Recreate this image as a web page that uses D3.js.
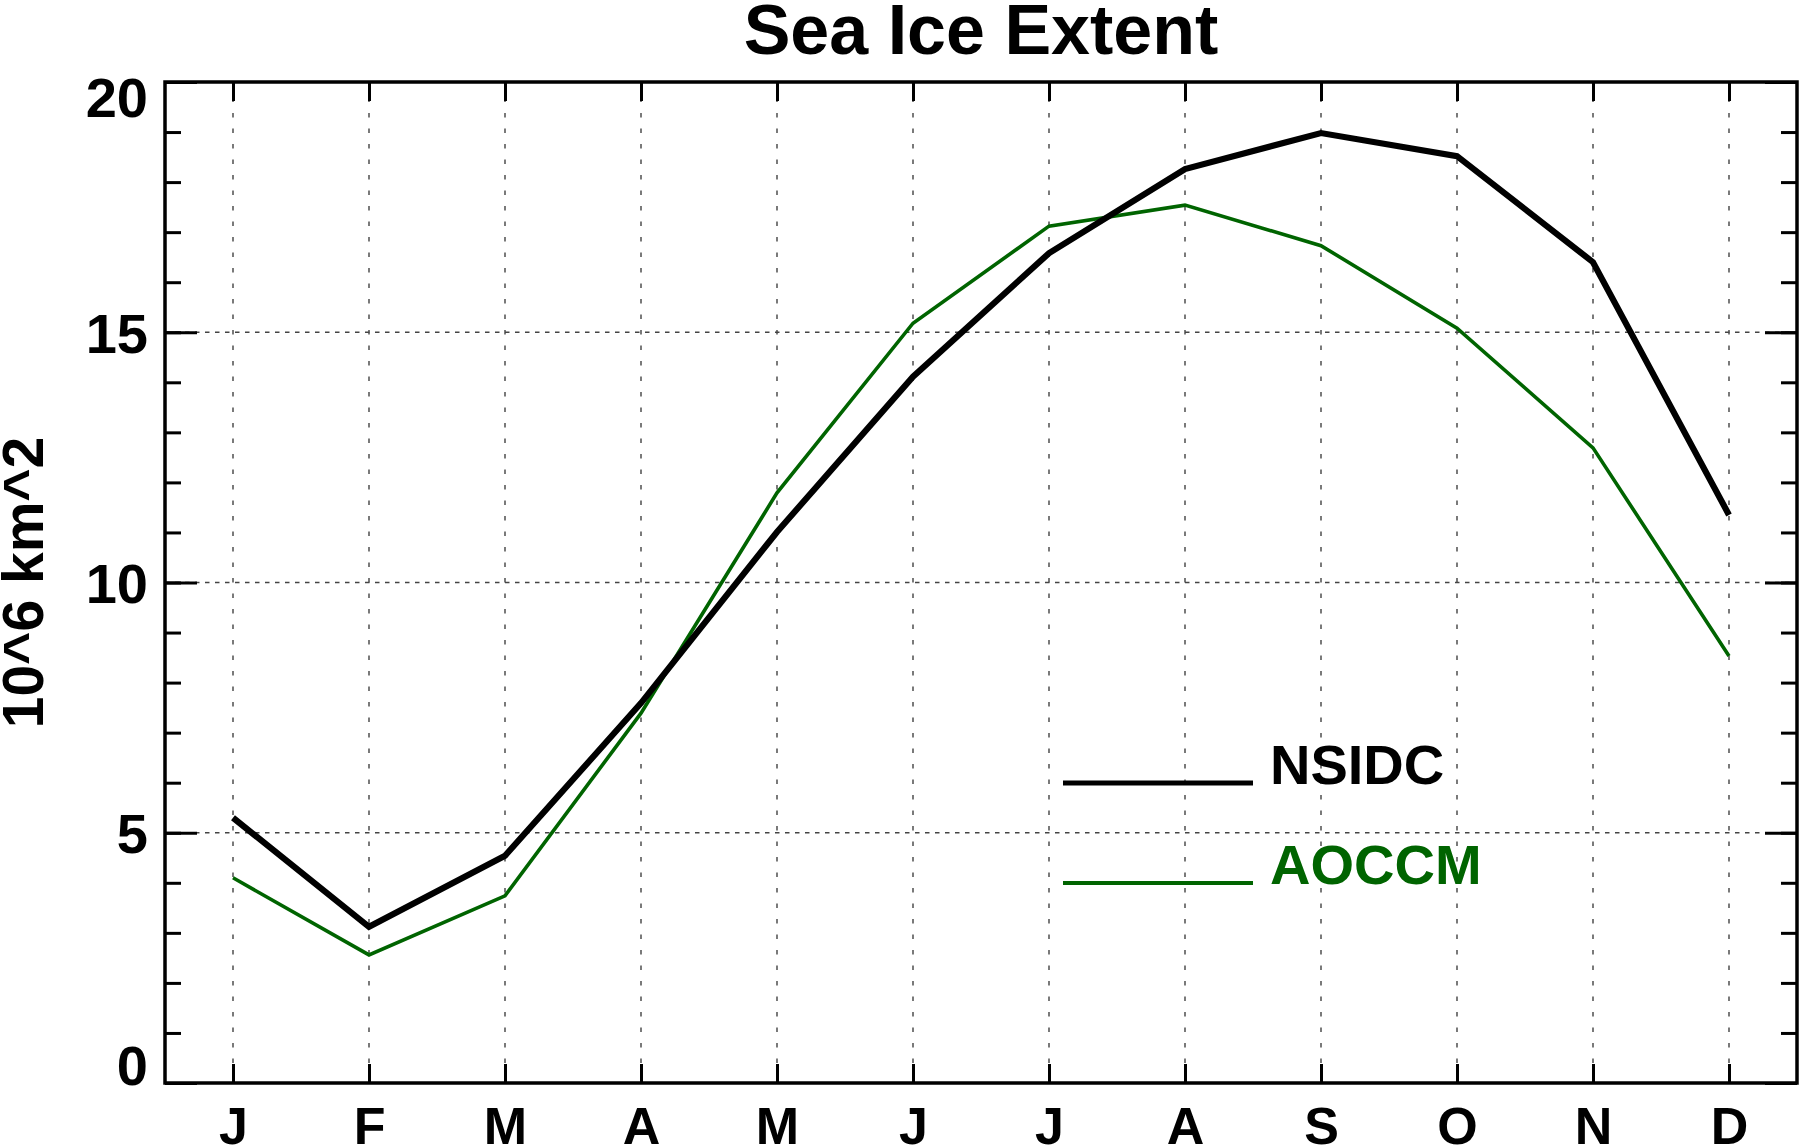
<!doctype html><html><head><meta charset="utf-8"></head><body style="margin:0;background:#fff">
<script src="https://d3js.org/d3.v7.min.js"></script>
<style>
  svg text {
    font-family: "Liberation Sans", Arial, Helvetica, sans-serif;
    font-weight: bold;
    fill: black;
  }
  .tick line { stroke: black; stroke-width: 3; }
</style>
<script>
  // monthly sea ice extent, 10^6 km^2
  var months = ["J", "F", "M", "A", "M", "J", "J", "A", "S", "O", "N", "D"];
  var nsidc = [5.30, 3.12, 4.54, 7.59, 11.01, 14.11, 16.58, 18.26, 18.98, 18.52, 16.40, 11.35];
  var aoccm = [4.10, 2.56, 3.74, 7.39, 11.79, 15.18, 17.12, 17.54, 16.73, 15.08, 12.69, 8.53];
  var yMajor = [0, 5, 10, 15, 20];
  var yMinor = d3.range(0, 21, 1);
  var seriesNames = ["NSIDC", "AOCCM"];

  var W = 1800, H = 1146;
  var pL = 165, pR = 1797, pT = 82, pB = 1083;

  var svg = d3.select("body").append("svg")
    .attr("width", W)
    .attr("height", H);

  var x = d3.scalePoint()
    .domain(d3.range(months.length))
    .range([pL, pR])
    .padding(0.5);

  var y = d3.scaleLinear()
    .domain([0, 20])
    .range([pB, pT]);

  // grid
  svg.append("g").selectAll("line")
    .data(d3.range(months.length))
    .enter().append("line")
    .attr("x1", d => x(d)).attr("x2", d => x(d))
    .attr("y1", pT).attr("y2", pB)
    .attr("stroke", "#333")
    .attr("stroke-width", 1.3)
    .attr("stroke-dasharray", "4.5,11");

  svg.append("g").selectAll("line")
    .data(yMajor.filter(d => d > 0 && d < 20))
    .enter().append("line")
    .attr("x1", pL).attr("x2", pR)
    .attr("y1", d => y(d)).attr("y2", d => y(d))
    .attr("stroke", "#444")
    .attr("stroke-width", 1.3)
    .attr("stroke-dasharray", "4.5,5.5");

  // axes (ticks point inward)
  var gx = svg.append("g")
    .attr("transform", "translate(0," + pB + ")")
    .call(d3.axisBottom(x).tickSizeInner(-19).tickSizeOuter(0).tickPadding(24)
      .tickFormat(i => months[i]));
  gx.selectAll("text").style("font-size", "52px");

  svg.append("g")
    .attr("transform", "translate(0," + pT + ")")
    .call(d3.axisTop(x).tickSizeInner(-19).tickSizeOuter(0).tickFormat(""));

  svg.append("g")
    .attr("transform", "translate(" + pL + ",0)")
    .call(d3.axisLeft(y).tickValues(yMinor).tickSizeInner(-16).tickSizeOuter(0).tickFormat(""));

  var gy = svg.append("g")
    .attr("transform", "translate(" + pL + ",0)")
    .call(d3.axisLeft(y).tickValues(yMajor).tickSizeInner(-32).tickSizeOuter(0).tickPadding(17));
  gy.selectAll("text")
    .style("font-size", "56px")
    .attr("dy", d => d == 20 ? "34px" : (d == 0 ? "1px" : "20px"));

  svg.append("g")
    .attr("transform", "translate(" + pR + ",0)")
    .call(d3.axisRight(y).tickValues(yMinor).tickSizeInner(-16).tickSizeOuter(0).tickFormat(""));

  svg.append("g")
    .attr("transform", "translate(" + pR + ",0)")
    .call(d3.axisRight(y).tickValues(yMajor).tickSizeInner(-32).tickSizeOuter(0).tickFormat(""));

  svg.selectAll(".domain").remove();

  // frame
  svg.append("rect")
    .attr("x", pL).attr("y", pT)
    .attr("width", pR - pL).attr("height", pB - pT)
    .attr("fill", "none")
    .attr("stroke", "black")
    .attr("stroke-width", 3.5);

  // data lines
  var line = d3.line()
    .x((d, i) => x(i))
    .y(d => y(d));

  svg.append("path")
    .datum(aoccm)
    .attr("d", line)
    .attr("fill", "none")
    .attr("stroke", "#006400")
    .attr("stroke-width", 3.6);

  svg.append("path")
    .datum(nsidc)
    .attr("d", line)
    .attr("fill", "none")
    .attr("stroke", "black")
    .attr("stroke-width", 6.2);

  // legend
  var legColors = ["black", "#006400"];
  var legWidths = [5, 4];
  var leg = svg.append("g").selectAll("g")
    .data(seriesNames)
    .enter().append("g")
    .attr("transform", (d, i) => "translate(1063," + (783 + i * 100) + ")");

  leg.append("line")
    .attr("x1", 0).attr("x2", 190)
    .attr("y1", 0).attr("y2", 0)
    .attr("stroke", (d, i) => legColors[i])
    .attr("stroke-width", (d, i) => legWidths[i]);

  leg.append("text")
    .attr("x", 207)
    .attr("y", 1)
    .style("font-size", "56px")
    .style("fill", (d, i) => legColors[i])
    .text(d => d);

  // title and y label
  svg.append("text")
    .attr("x", (pL + pR) / 2)
    .attr("y", 54)
    .attr("text-anchor", "middle")
    .style("font-size", "70px")
    .text("Sea Ice Extent");

  svg.append("text")
    .attr("transform", "translate(43," + (pT + pB) / 2 + ") rotate(-90)")
    .attr("text-anchor", "middle")
    .style("font-size", "57px")
    .text("10^6 km^2");
</script>
</body></html>
